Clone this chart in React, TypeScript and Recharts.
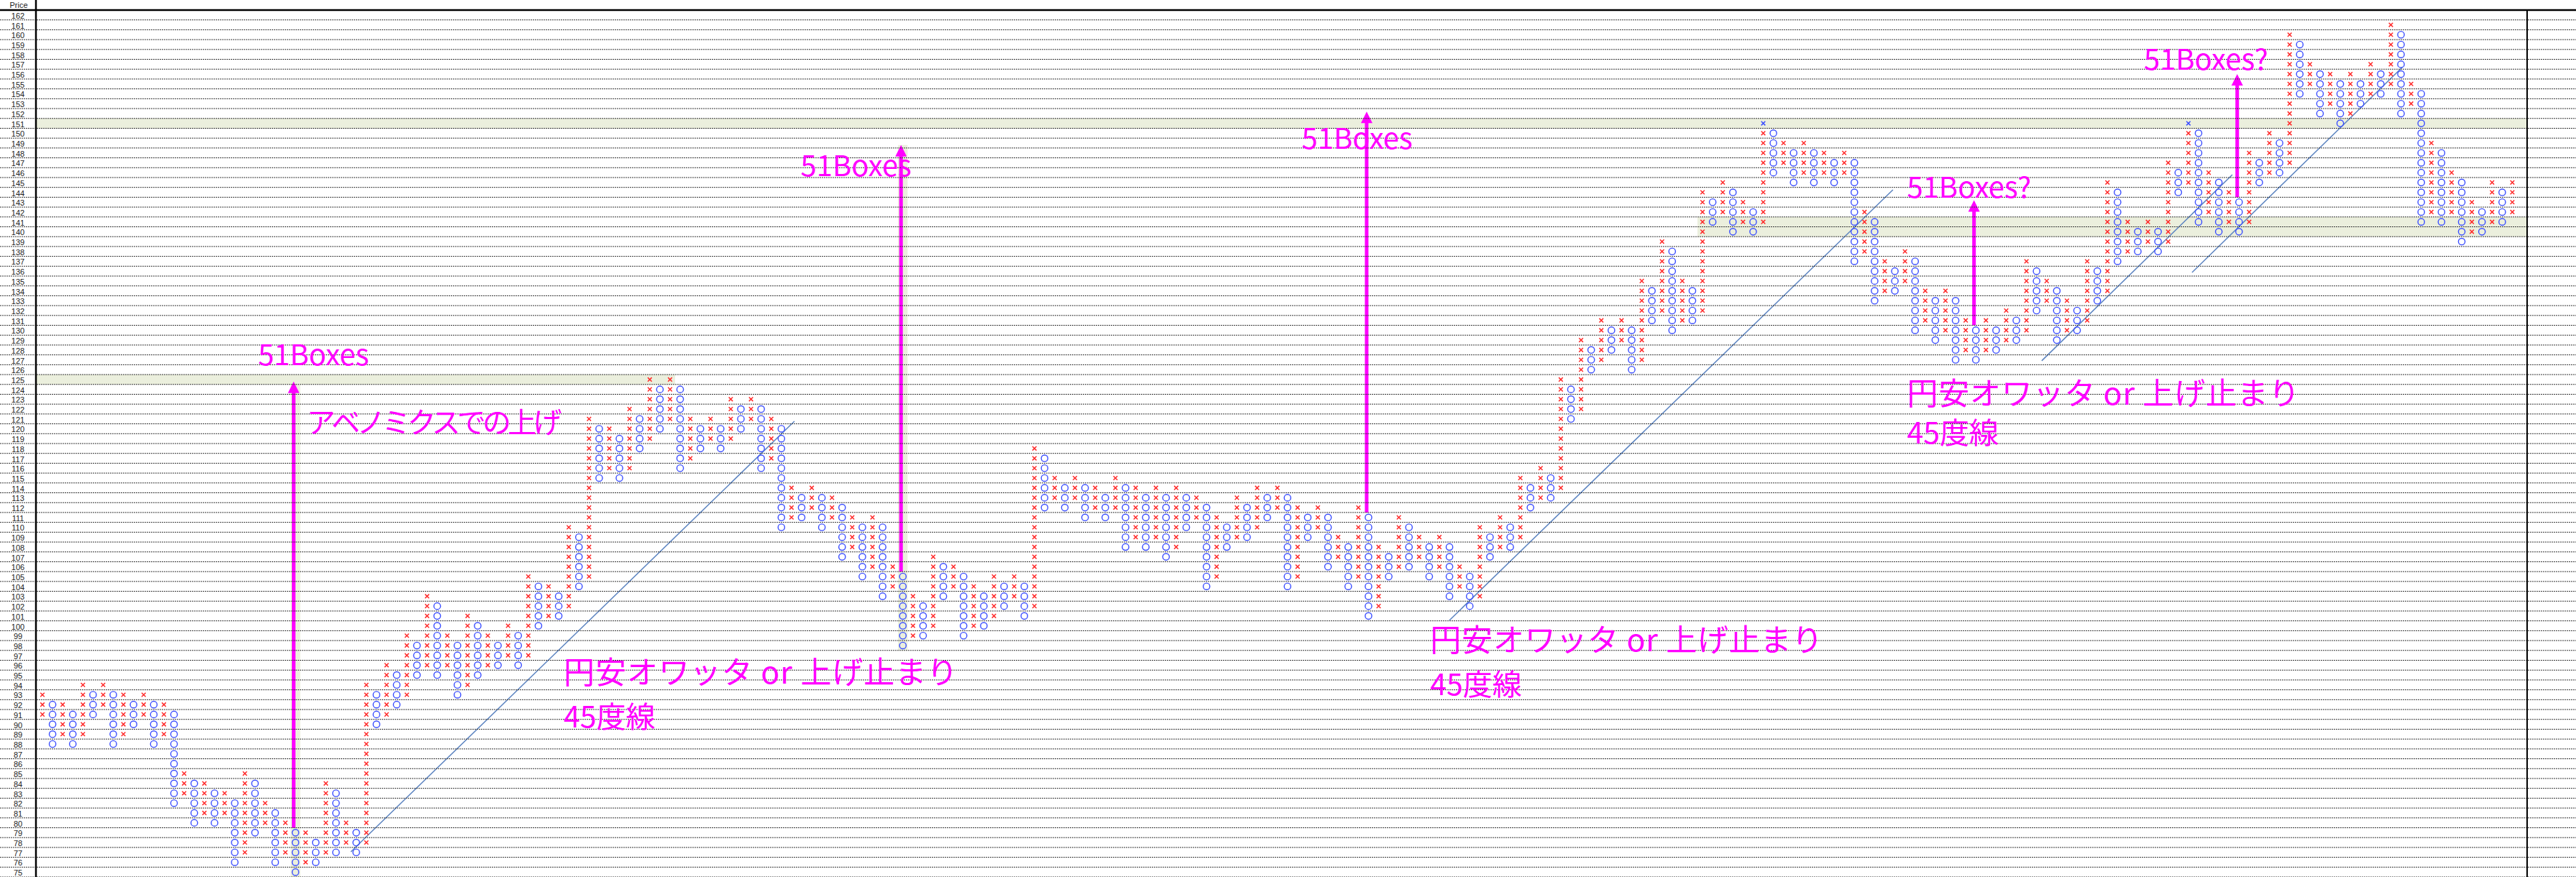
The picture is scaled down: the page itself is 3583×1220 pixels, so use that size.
import React from 'react';
import { ScatterChart, Scatter, XAxis, YAxis, ReferenceArea, ReferenceLine } from 'recharts';

const W = 3583;
const H = 1220;
const PINK = '#FF00FF';
const RED = '#FF2B2B';
const BLUE = '#3A4DFF';
const BAND = '#EBEFDD';
const JP = '"Noto Sans CJK JP", "Noto Sans", sans-serif';

// column index axis / price axis (1 box = 1 yen)
const X_MIN = -0.64;
const X_MAX = 245.46;
const Y_MIN = 74.5;
const Y_MAX = 162.5;

// P&F 列 (3枠転換)：偶数列 = X、奇数列 = O
const colLow = [
  91, 88, 89, 88, 89, 91, 92, 88, 89, 90,
  91, 88, 89, 82, 83, 80, 81, 80, 81, 76,
  77, 79, 80, 76, 77, 75, 76, 76, 77, 77,
  78, 77, 78, 90, 91, 92, 93, 95, 96, 95,
  96, 93, 94, 95, 96, 96, 97, 96, 97, 100,
  101, 101, 102, 104, 105, 115, 116, 115, 116, 118,
  119, 120, 121, 116, 117, 118, 119, 118, 119, 120,
  121, 116, 117, 110, 111, 111, 112, 110, 111, 107,
  108, 105, 106, 103, 104, 98, 99, 99, 100, 103,
  104, 99, 100, 100, 101, 102, 103, 101, 102, 112,
  113, 112, 113, 111, 112, 111, 112, 108, 109, 108,
  109, 107, 108, 110, 111, 104, 105, 108, 109, 109,
  110, 111, 112, 104, 105, 109, 110, 106, 107, 104,
  105, 101, 102, 105, 106, 106, 107, 105, 106, 103,
  104, 102, 103, 107, 108, 108, 109, 112, 113, 113,
  114, 121, 122, 126, 127, 128, 129, 126, 127, 131,
  132, 130, 131, 131, 132, 141, 142, 140, 141, 140,
  141, 146, 147, 145, 146, 145, 146, 145, 146, 137,
  138, 133, 134, 134, 135, 130, 131, 129, 130, 127,
  128, 127, 128, 128, 129, 129, 130, 132, 133, 129,
  130, 130, 131, 133, 134, 137, 138, 138, 139, 138,
  139, 144, 145, 141, 142, 140, 141, 140, 141, 145,
  146, 146, 147, 154, 155, 152, 153, 151, 152, 153,
  154, 154, 155, 152, 153, 141, 142, 141, 142, 139,
  140, 140, 141, 141, 142,
];
const colHigh = [
  93, 92, 92, 91, 94, 93, 94, 93, 93, 92,
  93, 92, 92, 91, 85, 84, 84, 83, 83, 82,
  85, 84, 82, 81, 80, 79, 79, 78, 84, 83,
  80, 79, 94, 93, 96, 95, 99, 98, 103, 102,
  99, 98, 101, 100, 99, 98, 100, 99, 105, 104,
  104, 103, 110, 109, 121, 120, 120, 119, 122, 121,
  125, 124, 125, 124, 121, 120, 121, 120, 123, 122,
  123, 122, 121, 120, 114, 113, 114, 113, 113, 112,
  111, 110, 111, 110, 106, 105, 103, 102, 107, 106,
  106, 105, 104, 103, 105, 104, 105, 104, 118, 117,
  115, 114, 115, 114, 114, 113, 115, 114, 114, 113,
  114, 113, 114, 113, 113, 112, 111, 110, 113, 112,
  114, 113, 114, 113, 112, 111, 112, 111, 109, 108,
  112, 111, 108, 107, 111, 110, 109, 108, 109, 108,
  106, 105, 110, 109, 111, 110, 115, 114, 116, 115,
  125, 124, 129, 128, 131, 130, 131, 130, 135, 134,
  139, 138, 135, 134, 144, 143, 145, 144, 143, 142,
  151, 150, 149, 148, 149, 148, 148, 147, 148, 147,
  142, 141, 137, 136, 138, 137, 134, 133, 134, 133,
  131, 130, 131, 130, 132, 131, 137, 136, 135, 134,
  133, 132, 137, 136, 145, 144, 141, 140, 141, 140,
  147, 146, 151, 150, 146, 145, 144, 143, 148, 147,
  150, 149, 160, 159, 157, 156, 156, 155, 156, 155,
  157, 156, 161, 160, 155, 154, 149, 148, 146, 145,
  143, 142, 145, 144, 145,
];
// 青い × (最新値)
const blueMarks = [
  { col: 170, p: 151 },
  { col: 212, p: 151 },
];

const priceTicks: number[] = [];
for (let v = 162; v >= 75; v--) priceTicks.push(v);

// 行の塗り
const rowBands = [
  { from: X_MIN, to: 62.5, price: 125 },
  { from: X_MIN, to: X_MAX, price: 151 },
  { from: 163.5, to: X_MAX, price: 141 },
  { from: 163.5, to: X_MAX, price: 140 },
];
// 列の塗り
const colBands = [
  { col: 25, low: 74.5, high: 124.8 },
  { col: 85, low: 97.5, high: 148.8 },
];

// 51Boxes 矢印
const arrows = [
  { col: 24.82, from: 79.5, to: 124.8 },
  { col: 84.82, from: 105.5, to: 148.8 },
  { col: 130.82, from: 111.5, to: 152.2 },
  { col: 190.82, from: 130.5, to: 143.2 },
  { col: 216.82, from: 143.5, to: 156.0 },
];

// 45度線
const trendLines = [
  { c1: 30.47, p1: 77.06, c2: 74.29, p2: 120.76 },
  { c1: 138.99, p1: 100.55, c2: 182.81, p2: 144.26 },
  { c1: 197.51, p1: 126.9, c2: 216.34, p2: 145.79 },
  { c1: 212.36, p1: 135.87, c2: 233.17, p2: 156.74 },
];

// 注記 (len = 横幅 px)
const notes = [
  { col: 21.3, p: 127.7, text: '51Boxes', size: 40, len: 0 },
  { col: 74.9, p: 146.9, text: '51Boxes', size: 40, len: 0 },
  { col: 124.4, p: 149.65, text: '51Boxes', size: 40, len: 0 },
  { col: 184.2, p: 144.7, text: '51Boxes?', size: 40, len: 0 },
  { col: 207.6, p: 157.7, text: '51Boxes?', size: 40, len: 0 },
  { col: 26.1, p: 120.8, text: 'アベノミクスでの上げ', size: 40, len: 355 },
  { col: 51.5, p: 95.5, text: '円安オワッタ or 上げ止まり', size: 43, len: 548 },
  { col: 51.5, p: 91.0, text: '45度線', size: 41, len: 0 },
  { col: 137.1, p: 98.8, text: '円安オワッタ or 上げ止まり', size: 43, len: 546 },
  { col: 137.1, p: 94.3, text: '45度線', size: 41, len: 0 },
  { col: 184.2, p: 123.8, text: '円安オワッタ or 上げ止まり', size: 43, len: 546 },
  { col: 184.2, p: 119.8, text: '45度線', size: 41, len: 0 },
];

const boxes: { col: number; p: number; kind: string }[] = [];
colLow.forEach((lo, c) => {
  for (let p = lo; p <= colHigh[c]; p++) {
    const blue = blueMarks.some((b) => b.col === c && b.p === p);
    boxes.push({ col: c, p, kind: blue ? 'bx' : c % 2 === 0 ? 'x' : 'o' });
  }
});

const gridRows: { col: number; p: number }[] = [];
for (let b = Y_MIN; b <= Y_MAX; b++) gridRows.push({ col: X_MIN, p: b });

function GridRow(props: any) {
  const { cy, payload } = props;
  if (payload.p === Y_MAX) {
    return (
      <g>
        <line x1={0} x2={W} y1={cy} y2={cy} stroke="#000" strokeWidth={2.5} />
        <line x1={50} x2={50} y1={0} y2={cy} stroke="#000" strokeWidth={2.5} />
        <text x={26} y={cy - 3} textAnchor="middle" fontSize={11} fontFamily="Liberation Sans" fill="#222">Price</text>
      </g>
    );
  }
  return <line x1={0} x2={W} y1={cy} y2={cy} stroke="#333" strokeWidth={1} strokeDasharray="2 1" />;
}

function Mark(props: any) {
  const { cx, cy, payload } = props;
  if (payload.kind === 'o') {
    return <circle cx={cx} cy={cy} r={4.6} fill="none" stroke={BLUE} strokeWidth={1.4} />;
  }
  const s = 2.8;
  const c = payload.kind === 'bx' ? BLUE : RED;
  return <path d={`M${cx - s},${cy - s}L${cx + s},${cy + s}M${cx - s},${cy + s}L${cx + s},${cy - s}`} stroke={c} strokeWidth={1.5} />;
}

function Note(props: any) {
  const { cx, cy, payload } = props;
  const extra = payload.len ? { textLength: payload.len, lengthAdjust: 'spacing' } : {};
  return (
    <text x={cx} y={cy} fill={PINK} fontSize={payload.size} fontFamily={JP} dominantBaseline="central" {...extra}>
      {payload.text}
    </text>
  );
}

function ArrowShape(props: any) {
  const { x1, y1, x2, y2 } = props;
  const x = (x1 + x2) / 2;
  const top = Math.min(y1, y2);
  const bot = Math.max(y1, y2);
  return (
    <g>
      <line x1={x} x2={x} y1={bot} y2={top + 14} stroke={PINK} strokeWidth={5} />
      <polygon points={`${x - 8},${top + 16} ${x + 8},${top + 16} ${x},${top}`} fill={PINK} />
    </g>
  );
}

const LeftTick = (props: any) => (
  <text x={25} y={props.y + 1} textAnchor="middle" dominantBaseline="central" fontSize={11} fontFamily="Liberation Sans" fill="#222">
    {props.payload.value}
  </text>
);
const RightTick = (props: any) => (
  <text x={3549} y={props.y + 1} textAnchor="middle" dominantBaseline="central" fontSize={11} fontFamily="Liberation Sans" fill="#222">
    {props.payload.value}
  </text>
);

export default function App() {
  return (
    <div style={{ width: W, height: H, background: '#fff' }}>
      <style>{'body{margin:0;overflow:hidden;background:#fff}'}</style>
      <ScatterChart width={W} height={H} margin={{ top: 14, right: 0, bottom: 0, left: 0 }}>
        <XAxis type="number" dataKey="col" domain={[X_MIN, X_MAX]} hide />
        <YAxis
          yAxisId="L"
          type="number"
          dataKey="p"
          domain={[Y_MIN, Y_MAX]}
          ticks={priceTicks}
          interval={0}
          width={50}
          tickLine={false}
          axisLine={{ stroke: '#000', strokeWidth: 2.5 }}
          tick={LeftTick}
        />
        <YAxis
          yAxisId="R"
          orientation="right"
          type="number"
          dataKey="p"
          domain={[Y_MIN, Y_MAX]}
          ticks={priceTicks}
          interval={0}
          width={68}
          tickLine={false}
          axisLine={{ stroke: '#000', strokeWidth: 2 }}
          tick={RightTick}
        />

        {rowBands.map((b, i) => (
          <ReferenceArea key={`rb${i}`} yAxisId="L" x1={b.from} x2={b.to} y1={b.price - 0.5} y2={b.price + 0.5} fill={BAND} fillOpacity={1} stroke="none" />
        ))}
        {colBands.map((b, i) => (
          <ReferenceArea key={`cb${i}`} yAxisId="L" x1={b.col - 0.47} x2={b.col + 0.47} y1={b.low} y2={b.high} fill={BAND} fillOpacity={1} stroke="none" />
        ))}

        <Scatter yAxisId="L" data={gridRows} shape={GridRow} isAnimationActive={false} />

        {trendLines.map((t, i) => (
          <ReferenceLine
            key={`tl${i}`}
            yAxisId="L"
            segment={[{ x: t.c1, y: t.p1 }, { x: t.c2, y: t.p2 }]}
            stroke="#5B83C0"
            strokeWidth={1.5}
          />
        ))}

        <Scatter yAxisId="L" data={boxes} shape={Mark} isAnimationActive={false} />

        {arrows.map((a, i) => (
          <ReferenceLine
            key={`ar${i}`}
            yAxisId="L"
            segment={[{ x: a.col, y: a.from }, { x: a.col, y: a.to }]}
            shape={ArrowShape}
          />
        ))}

        <Scatter yAxisId="L" data={notes} shape={Note} isAnimationActive={false} />
      </ScatterChart>
    </div>
  );
}
